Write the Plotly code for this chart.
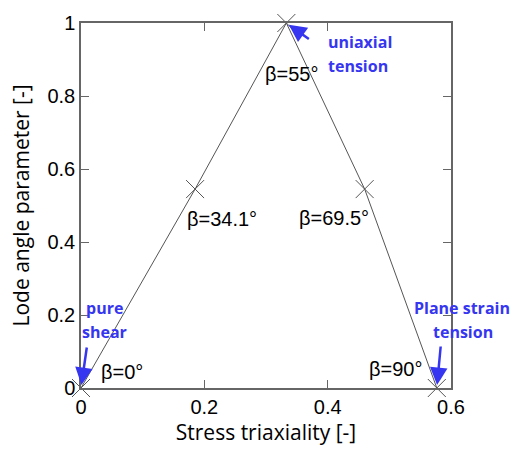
import plotly.graph_objects as go

# Loading states along the plane-stress locus
beta_deg = [0, 34.1, 55, 69.5, 90]
triaxiality = [0, 0.185, 0.333, 0.46, 0.577]
lode_param = [0, 0.545, 1, 0.545, 0]

# pixel offsets of each beta label from its point
label_dx = [41, 27, 5, -31, -41]
label_dy = [16, -30, -51, -29, 19]

x_ticks = [0, 0.2, 0.4, 0.6]
y_ticks = [0, 0.2, 0.4, 0.6, 0.8, 1]

gray = "#555555"
blue = "#3636f0"

fig = go.Figure()
fig.add_trace(go.Scatter(
    x=triaxiality, y=lode_param, mode="lines+markers",
    line=dict(color=gray, width=1),
    marker=dict(symbol="x-thin", size=18, line=dict(color=gray, width=1)),
    cliponaxis=False, showlegend=False, hoverinfo="skip",
))

annotations = []
for b, x, y, dx, dy in zip(beta_deg, triaxiality, lode_param, label_dx, label_dy):
    annotations.append(dict(
        x=x, y=y, xref="x", yref="y", text=f"β={b:g}°", showarrow=False,
        xshift=dx, yshift=dy, font=dict(family="Arial, Liberation Sans", size=20, color="black"),
    ))

blue_font = dict(family="Open Sans", size=16, color=blue, weight="bold")

# arrows pointing at the three named states
for x, y, ax, ay in [(triaxiality[2], lode_param[2], 24, 17),
                     (triaxiality[0], lode_param[0], 6, -42),
                     (triaxiality[4], lode_param[4], 4, -43)]:
    annotations.append(dict(
        x=x, y=y, xref="x", yref="y", text="", showarrow=True,
        ax=ax, ay=ay, arrowhead=2, arrowsize=1.4, arrowwidth=2.5,
        arrowcolor=blue, standoff=3,
    ))

def blue_text(x, y, text, dx, dy, xanchor="center", font=blue_font):
    annotations.append(dict(x=x, y=y, xref="x", yref="y", text=text, showarrow=False,
                            xshift=dx, yshift=dy, xanchor=xanchor, font=font))

blue_text(triaxiality[2], lode_param[2], "uniaxial", 40, -19, "left")
blue_text(triaxiality[2], lode_param[2], "tension", 40, -43, "left")
blue_text(triaxiality[0], lode_param[0], "pure", 23, 80)
blue_text(triaxiality[0], lode_param[0], "shear", 23, 56)
blue_text(triaxiality[4], lode_param[4], "Plane strain", 25, 80)
blue_text(triaxiality[4], lode_param[4], "tension", 26, 56)

axis_common = dict(
    showline=True, mirror="ticks", linecolor="#666666", linewidth=1.5,
    ticks="inside", ticklen=8, tickcolor="#666666", tickwidth=1,
    showgrid=False, zeroline=False,
    tickfont=dict(family="Arial, Liberation Sans", size=20, color="black"),
)

title_font = dict(family="Open Sans", size=21, color="black")

fig.update_layout(
    width=512, height=449,
    margin=dict(l=81, r=61, t=19, b=61),
    paper_bgcolor="white", plot_bgcolor="white",
    xaxis=dict(range=[0, 0.6], tickvals=x_ticks, ticktext=[f"{v:g}" for v in x_ticks],
               title=dict(text="Stress triaxiality [-]", font=title_font, standoff=2),
               **axis_common),
    yaxis=dict(range=[0, 1], tickvals=y_ticks, ticktext=[f"{v:g}" for v in y_ticks],
               title=dict(text="Lode angle parameter [-]", font=title_font, standoff=12),
               **axis_common),
    annotations=annotations,
)

fig.write_html("out.html", config={"displayModeBar": False})
